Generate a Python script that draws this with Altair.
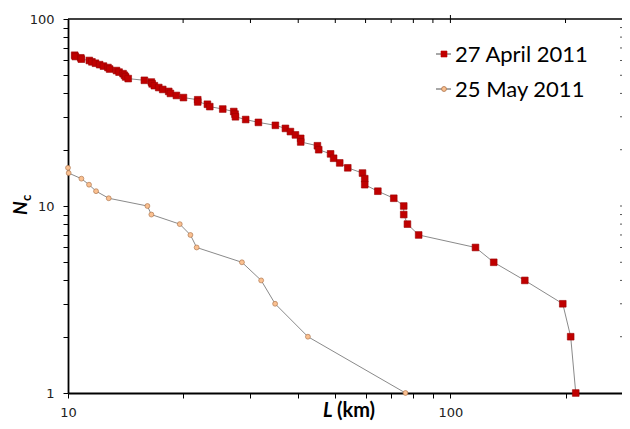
import altair as alt
import pandas as pd

# ---- data (log-log cumulative counts) ----
april_N = [64, 63, 62, 61, 60, 59, 58, 57, 56, 55, 54, 53, 52, 51, 50, 49, 48,
           47, 46, 45, 44, 43, 42, 41, 40, 39, 38, 37, 36, 35, 34, 33, 32, 31,
           30, 29, 28, 27, 26, 25, 24, 23, 22, 21, 20, 19, 18, 17, 16, 15, 14,
           13, 12, 11, 10, 9, 8, 7, 6, 5, 4, 3, 2, 1]
april_L = [10.41, 10.45, 10.80, 10.84, 11.37, 11.55, 11.80, 12.10, 12.38, 12.72,
           12.85, 13.39, 13.60, 13.93, 14.05, 14.15, 14.37, 15.84, 16.52, 16.60,
           16.82, 17.27, 17.69, 18.34, 18.53, 19.21, 20.04, 21.84, 21.84, 23.15,
           23.48, 25.39, 27.13, 27.34, 27.41, 29.15, 31.47, 34.86, 37.03, 38.16,
           39.33, 40.6, 40.6, 44.9, 45.25, 48.6, 49.5, 51.35, 53.9, 58.9, 59.7,
           59.7, 64.6, 71.1, 75.5, 75.5, 77.2, 82.6, 116.3, 129.8, 156.5, 196.7,
           206.3, 212.7]

may_N = [16, 15, 14, 13, 12, 11, 10, 9, 8, 7, 6, 5, 4, 3, 2, 1]
may_L = [10.0, 10.04, 10.84, 11.35, 11.84, 12.78, 16.13, 16.52, 19.6, 20.9,
         21.7, 28.5, 32.0, 34.8, 42.4, 76.3]

series_names = ["27 April 2011", "25 May 2011"]

x_minor = [10, 20, 30, 40, 50, 60, 70, 80, 90, 100, 200]
y_minor = [1, 2, 3, 4, 5, 6, 7, 8, 9, 10, 20, 30, 40, 50, 60, 70, 80, 90, 100]
x_domain = [10, 281]
y_domain = [1, 100]

W, H = 554, 374

april = pd.DataFrame({"L": april_L, "N": april_N})
may = pd.DataFrame({"L": may_L, "N": may_N})

xs = alt.Scale(type="log", domain=x_domain, nice=False)
ys = alt.Scale(type="log", domain=y_domain, nice=False)

FONT_AX = "DejaVu Sans"
FONT_TXT = "Lato"

xaxis = alt.Axis(values=x_minor, format="d",
                 labelExpr="(datum.value == 10 || datum.value == 100) ? datum.label : ''",
                 tickSize=5, labelPadding=8, domainWidth=1.8, domainColor="black",
                 tickColor="black", tickWidth=1, labelFont=FONT_AX, labelFontSize=13,
                 labelColor="#222", grid=False, title=None, labelFlush=False)
yaxis = alt.Axis(values=y_minor, format="d",
                 labelExpr="(datum.value == 1 || datum.value == 10 || datum.value == 100) ? datum.label : ''",
                 tickSize=5, labelPadding=9, domainWidth=1.8, domainColor="black",
                 tickColor="black", tickWidth=1, labelFont=FONT_AX, labelFontSize=13,
                 labelColor="#222", grid=False, title=None, labelFlush=False)

line_col = "#8a8a8a"

lines_april = alt.Chart(april).mark_line(color=line_col, strokeWidth=1).encode(
    x=alt.X("L:Q", scale=xs, axis=xaxis), y=alt.Y("N:Q", scale=ys, axis=yaxis),
    order="N:O")
pts_april = alt.Chart(april).mark_point(shape="square", filled=True, size=45,
                                        color="#C00000", stroke="#9A0000",
                                        strokeWidth=0.6, opacity=1).encode(
    x=alt.X("L:Q", scale=xs), y=alt.Y("N:Q", scale=ys))
lines_may = alt.Chart(may).mark_line(color=line_col, strokeWidth=1).encode(
    x=alt.X("L:Q", scale=xs), y=alt.Y("N:Q", scale=ys))
pts_may = alt.Chart(may).mark_point(shape="circle", filled=True, size=24,
                                    fill="#FAC090", stroke="#B07850",
                                    strokeWidth=0.7, opacity=1).encode(
    x=alt.X("L:Q", scale=xs), y=alt.Y("N:Q", scale=ys))

# top frame line and inward ticks
top_line = alt.Chart(pd.DataFrame({"a": [0]})).mark_rule(color="black", strokeWidth=1.3).encode(
    x=alt.value(0), x2=alt.value(W), y=alt.value(0))
top_ticks = alt.Chart(pd.DataFrame({"v": [v for v in x_minor if v not in (10, 100)]})).mark_rule(
    color="black", strokeWidth=1).encode(
    x=alt.X("v:Q", scale=xs), y=alt.value(0), y2=alt.value(4))
top_major = alt.Chart(pd.DataFrame({"v": [100]})).mark_rule(color="black", strokeWidth=1).encode(
    x=alt.X("v:Q", scale=xs), y=alt.value(-4), y2=alt.value(4))
right_ticks = alt.Chart(pd.DataFrame({"v": [v for v in y_minor if v not in (1, 100)]})).mark_rule(
    color="#555", strokeWidth=1).encode(
    y=alt.Y("v:Q", scale=ys), x=alt.value(W - 2), x2=alt.value(W))

# legend
leg = pd.DataFrame({"name": series_names})
leg1_line = alt.Chart(leg).mark_rule(color=line_col, strokeWidth=1).encode(
    x=alt.value(368), x2=alt.value(383), y=alt.value(35))
leg1_pt = alt.Chart(leg).mark_point(shape="square", filled=True, size=40, color="#C00000",
                                    opacity=1).encode(x=alt.value(376), y=alt.value(35))
leg1_txt = alt.Chart(pd.DataFrame({"name": [series_names[0]]})).mark_text(
    align="left", baseline="middle", font=FONT_TXT, fontSize=22, color="black").encode(
    x=alt.value(387), y=alt.value(36), text="name:N")
leg2_line = alt.Chart(leg).mark_rule(color=line_col, strokeWidth=1).encode(
    x=alt.value(368), x2=alt.value(383), y=alt.value(70))
leg2_pt = alt.Chart(leg).mark_point(shape="circle", filled=True, size=22, fill="#FAC090",
                                    stroke="#B07850", strokeWidth=0.7, opacity=1).encode(
    x=alt.value(376), y=alt.value(70))
leg2_txt = alt.Chart(pd.DataFrame({"name": [series_names[1]]})).mark_text(
    align="left", baseline="middle", font=FONT_TXT, fontSize=22, color="black").encode(
    x=alt.value(387), y=alt.value(71), text="name:N")

# axis titles
yt_N = alt.Chart(pd.DataFrame({"t": ["N"]})).mark_text(
    angle=270, align="left", baseline="alphabetic", font=FONT_TXT, fontSize=19,
    fontWeight="bold", fontStyle="italic", color="black").encode(
    x=alt.value(-41), y=alt.value(196), text="t:N")
yt_c = alt.Chart(pd.DataFrame({"t": ["c"]})).mark_text(
    angle=270, align="left", baseline="alphabetic", font=FONT_TXT, fontSize=13,
    fontWeight="bold", color="black").encode(
    x=alt.value(-37), y=alt.value(182), text="t:N")
xt_L = alt.Chart(pd.DataFrame({"t": ["L"]})).mark_text(
    align="left", baseline="alphabetic", font=FONT_TXT, fontSize=20,
    fontWeight="bold", fontStyle="italic", color="black").encode(
    x=alt.value(255), y=alt.value(398), text="t:N")
xt_km = alt.Chart(pd.DataFrame({"t": ["(km)"]})).mark_text(
    align="left", baseline="alphabetic", font=FONT_TXT, fontSize=20,
    fontWeight="bold", color="black").encode(
    x=alt.value(269), y=alt.value(398), text="t:N")

chart = alt.layer(
    lines_april, lines_may, pts_may, pts_april,
    top_line, top_ticks, top_major, right_ticks,
    leg1_line, leg1_pt, leg1_txt, leg2_line, leg2_pt, leg2_txt,
    yt_N, yt_c, xt_L, xt_km
).properties(
    width=W, height=H,
    autosize=alt.AutoSizeParams(type="none"),
    padding={"left": 60, "top": 11, "right": 0, "bottom": 28},
    background="white",
).configure_view(stroke=None)

chart.save("out.html", embed_options={"renderer": "svg", "actions": False})
